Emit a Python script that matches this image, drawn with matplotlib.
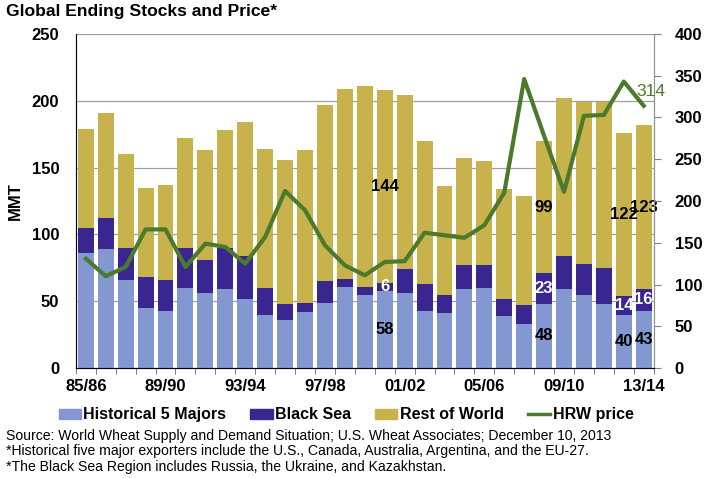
import matplotlib
matplotlib.use("Agg")
import matplotlib.pyplot as plt
from matplotlib.lines import Line2D
from matplotlib.patches import Patch
import numpy as np

plt.rcParams['font.family'] = ['Liberation Sans', 'DejaVu Sans']

years = ["85/86", "86/87", "87/88", "88/89", "89/90", "90/91", "91/92", "92/93",
         "93/94", "94/95", "95/96", "96/97", "97/98", "98/99", "99/00", "00/01",
         "01/02", "02/03", "03/04", "04/05", "05/06", "06/07", "07/08", "08/09",
         "09/10", "10/11", "11/12", "12/13", "13/14"]
majors = [86, 89, 66, 45, 43, 60, 56, 59, 52, 40, 36, 42, 49, 61, 55, 58,
          56, 43, 41, 59, 60, 39, 33, 48, 59, 55, 48, 40, 43]
black_sea = [19, 23, 24, 23, 23, 30, 25, 31, 32, 20, 12, 7, 16, 6, 6, 6,
             18, 20, 14, 18, 17, 13, 14, 23, 25, 23, 27, 14, 16]
totals = [179, 191, 160, 135, 137, 172, 163, 178, 184, 164, 156, 163, 197, 209, 211, 208,
          204, 170, 136, 157, 155, 134, 129, 170, 202, 199, 199, 176, 182]
hrw_price = [131, 110, 121, 166, 166, 121, 149, 145, 125, 157, 212, 189, 147, 123, 111, 127,
             128, 162, 159, 156, 171, 210, 346, 278, 211, 302, 303, 343, 314]
tick_years = ["85/86", "89/90", "93/94", "97/98", "01/02", "05/06", "09/10", "13/14"]

# labelled years: (index, majors, black sea, rest of world)
labels = [(15, "58", "6", "144"), (23, "48", "23", "99"), (27, "40", "14", "122"),
          (28, "43", "16", "123")]

c_major = "#8398d0"
c_bs = "#3a2691"
c_row = "#c8b24b"
c_line = "#4b7a2d"

majors = np.array(majors)
black_sea = np.array(black_sea)
rest = np.array(totals) - majors - black_sea
x = np.arange(len(years))

fig = plt.figure(figsize=(7.09, 4.78), dpi=100)
ax = fig.add_axes([0.107, 0.230, 0.815, 0.699])

ax.set_axisbelow(True)
ax.grid(axis='y', color='#a0a0a0', linewidth=0.9)
w = 0.8
ax.bar(x, majors, w, color=c_major)
ax.bar(x, black_sea, w, bottom=majors, color=c_bs)
ax.bar(x, rest, w, bottom=majors + black_sea, color=c_row)

for i, m, b, r in labels:
    ax.text(x[i], majors[i] / 2, m, ha='center', va='center', fontsize=12, fontweight='bold')
    ax.text(x[i], majors[i] + black_sea[i] / 2, b, ha='center', va='center', fontsize=12,
            fontweight='bold', color='white')
    ax.text(x[i], majors[i] + black_sea[i] + rest[i] / 2, r, ha='center', va='center',
            fontsize=12, fontweight='bold')

ax.set_xlim(-0.5, len(years) - 0.5)
ax.set_ylim(0, 250)
ax.set_yticks(range(0, 251, 50))
ax.set_xticks(np.arange(-0.5, len(years), 1))
ax.set_xticklabels([])
ax.tick_params(axis='x', which='major', direction='out', length=4, color='#808080')
ax.set_xticks([years.index(t) for t in tick_years], minor=True)
ax.set_xticklabels(tick_years, minor=True)
ax.tick_params(axis='x', which='minor', length=0, pad=8, labelsize=12)
ax.tick_params(axis='y', length=0, pad=12, labelsize=12)
for lab in ax.get_xticklabels(minor=True) + ax.get_yticklabels():
    lab.set_fontweight('bold')
ax.set_ylabel("MMT", fontsize=12, fontweight='bold', labelpad=6)
ax.spines['top'].set_visible(False)
for s in ['left', 'bottom', 'right']:
    ax.spines[s].set_color('#909090')

ax2 = ax.twinx()
ax2.plot(x, hrw_price, color=c_line, linewidth=3)
ax2.set_ylim(0, 400)
ax2.set_yticks(range(0, 401, 50))
ax2.tick_params(axis='y', direction='out', length=5, color='#808080', labelsize=12, pad=10)
for lab in ax2.get_yticklabels():
    lab.set_fontweight('bold')
ax2.spines['top'].set_visible(False)
ax2.spines['right'].set_color('#909090')
ax2.text(x[-1] + 0.35, hrw_price[-1] + 8, str(hrw_price[-1]), color=c_line, fontsize=12.5,
         ha='center', va='bottom')

fig.text(0.008, 0.975, "Global Ending Stocks and Price*", fontsize=12.6, fontweight='bold',
         va='center')

handles = [Patch(color=c_major), Patch(color=c_bs), Patch(color=c_row),
           Line2D([0], [0], color=c_line, linewidth=2.5)]
names = ["Historical 5 Majors", "Black Sea", "Rest of World", "HRW price"]
fig.legend(handles, names, loc='center', bbox_to_anchor=(0.488, 0.132), ncol=4, frameon=False,
           prop={'size': 11.5, 'weight': 'bold'}, handlelength=1.4, handleheight=0.6,
           handletextpad=0.15, columnspacing=1.5)

notes = ["Source: World Wheat Supply and Demand Situation; U.S. Wheat Associates; December 10, 2013",
         "*Historical five major exporters include the U.S., Canada, Australia, Argentina, and the EU-27.",
         "*The Black Sea Region includes Russia, the Ukraine, and Kazakhstan."]
for k, t in enumerate(notes):
    fig.text(0.008, 0.088 - k * 0.032, t, fontsize=10.1, va='center')

fig.savefig("out.png", dpi=100)
